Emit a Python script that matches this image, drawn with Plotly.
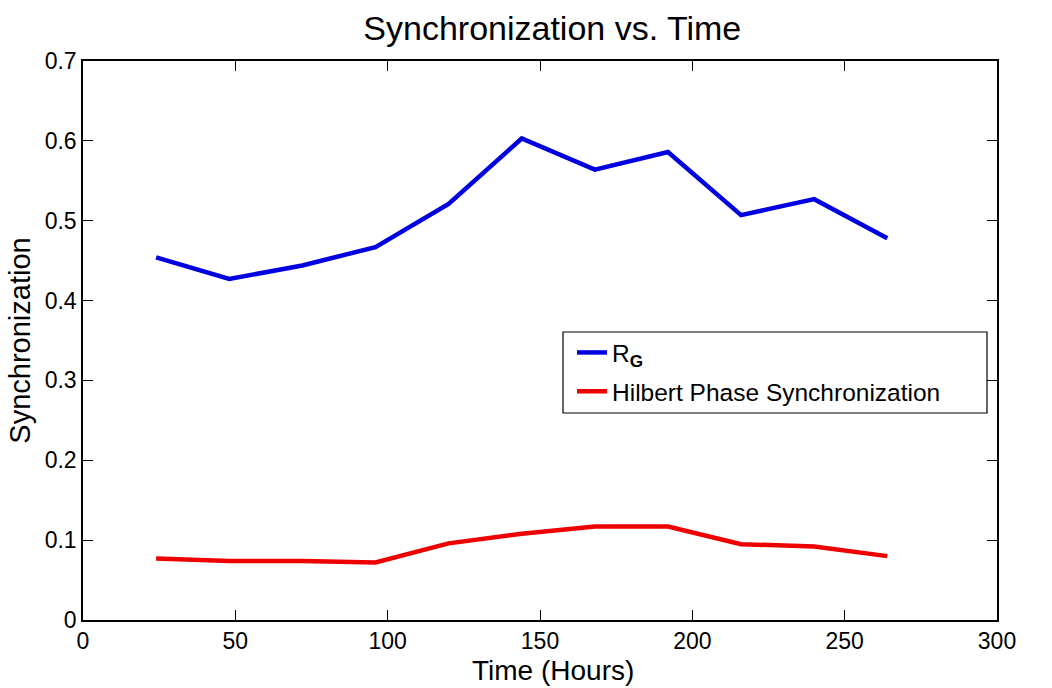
import plotly.graph_objects as go

hours = [24, 48, 72, 96, 120, 144, 168, 192, 216, 240, 264]
rg = [0.454, 0.427, 0.444, 0.467, 0.521, 0.603, 0.564, 0.586, 0.507, 0.527, 0.478]
hilbert = [0.077, 0.074, 0.074, 0.072, 0.096, 0.108, 0.117, 0.117, 0.095, 0.092, 0.080]

x_ticks = [0, 50, 100, 150, 200, 250, 300]
y_ticks = [0, 0.1, 0.2, 0.3, 0.4, 0.5, 0.6, 0.7]

FONT = "Liberation Sans, Arial, Helvetica, sans-serif"

fig = go.Figure()
fig.add_trace(go.Scatter(x=hours, y=rg, mode="lines", name="R<sub><b>G</b></sub>",
                         legendgroup="a",
                         line=dict(color="#0000e0", width=4.5)))
fig.add_trace(go.Scatter(x=hours, y=hilbert, mode="lines", name="Hilbert Phase Synchronization",
                         legendgroup="b",
                         line=dict(color="#ee0000", width=4.5)))

axis_common = dict(showgrid=False, zeroline=False, showline=True, linecolor="black",
                   linewidth=1.5, mirror="ticks", ticks="inside", ticklen=10,
                   tickcolor="black", tickwidth=1, automargin=False,
                   tickfont=dict(family=FONT, size=23, color="black"))

fig.update_xaxes(range=[0, 300], tickvals=x_ticks, ticktext=[str(v) for v in x_ticks],
                 **axis_common)
fig.update_yaxes(range=[0, 0.7], tickvals=y_ticks, ticktext=["0"] + [f"{v:.1f}" for v in y_ticks[1:]],
                 title=dict(text="Synchronization", font=dict(family=FONT, size=29, color="black"), standoff=6),
                 **axis_common)

# x-axis title placed as text annotation, centred like the reference
fig.add_annotation(text="Time (Hours)", xref="paper", yref="paper",
                   x=0.514, y=(620 - 670) / 559, xanchor="center", yanchor="middle",
                   showarrow=False, font=dict(family=FONT, size=28, color="black"))

# legend frame (wider than the auto legend box, as in the reference)
fig.add_shape(type="rect", xref="paper", yref="paper",
              x0=(563 - 83) / 914, x1=(987 - 83) / 914,
              y0=(620 - 413) / 559, y1=(620 - 332) / 559,
              line=dict(color="black", width=1.2), fillcolor="white", layer="below")

fig.update_layout(
    width=1052, height=688,
    margin=dict(l=83, r=55, t=61, b=68),
    paper_bgcolor="white", plot_bgcolor="rgba(0,0,0,0)",
    title=dict(text="Synchronization vs. Time", x=0.525, xanchor="center",
               y=1 - 28 / 688, yanchor="middle",
               font=dict(family=FONT, size=34, color="black")),
    legend=dict(x=(572 - 83) / 914, y=(620 - 330) / 559, xanchor="left", yanchor="top",
                bgcolor="rgba(0,0,0,0)", borderwidth=0,
                font=dict(family=FONT, size=24.5, color="black"),
                itemwidth=30, tracegroupgap=4),
    showlegend=True,
)

fig.write_html("out.html")
